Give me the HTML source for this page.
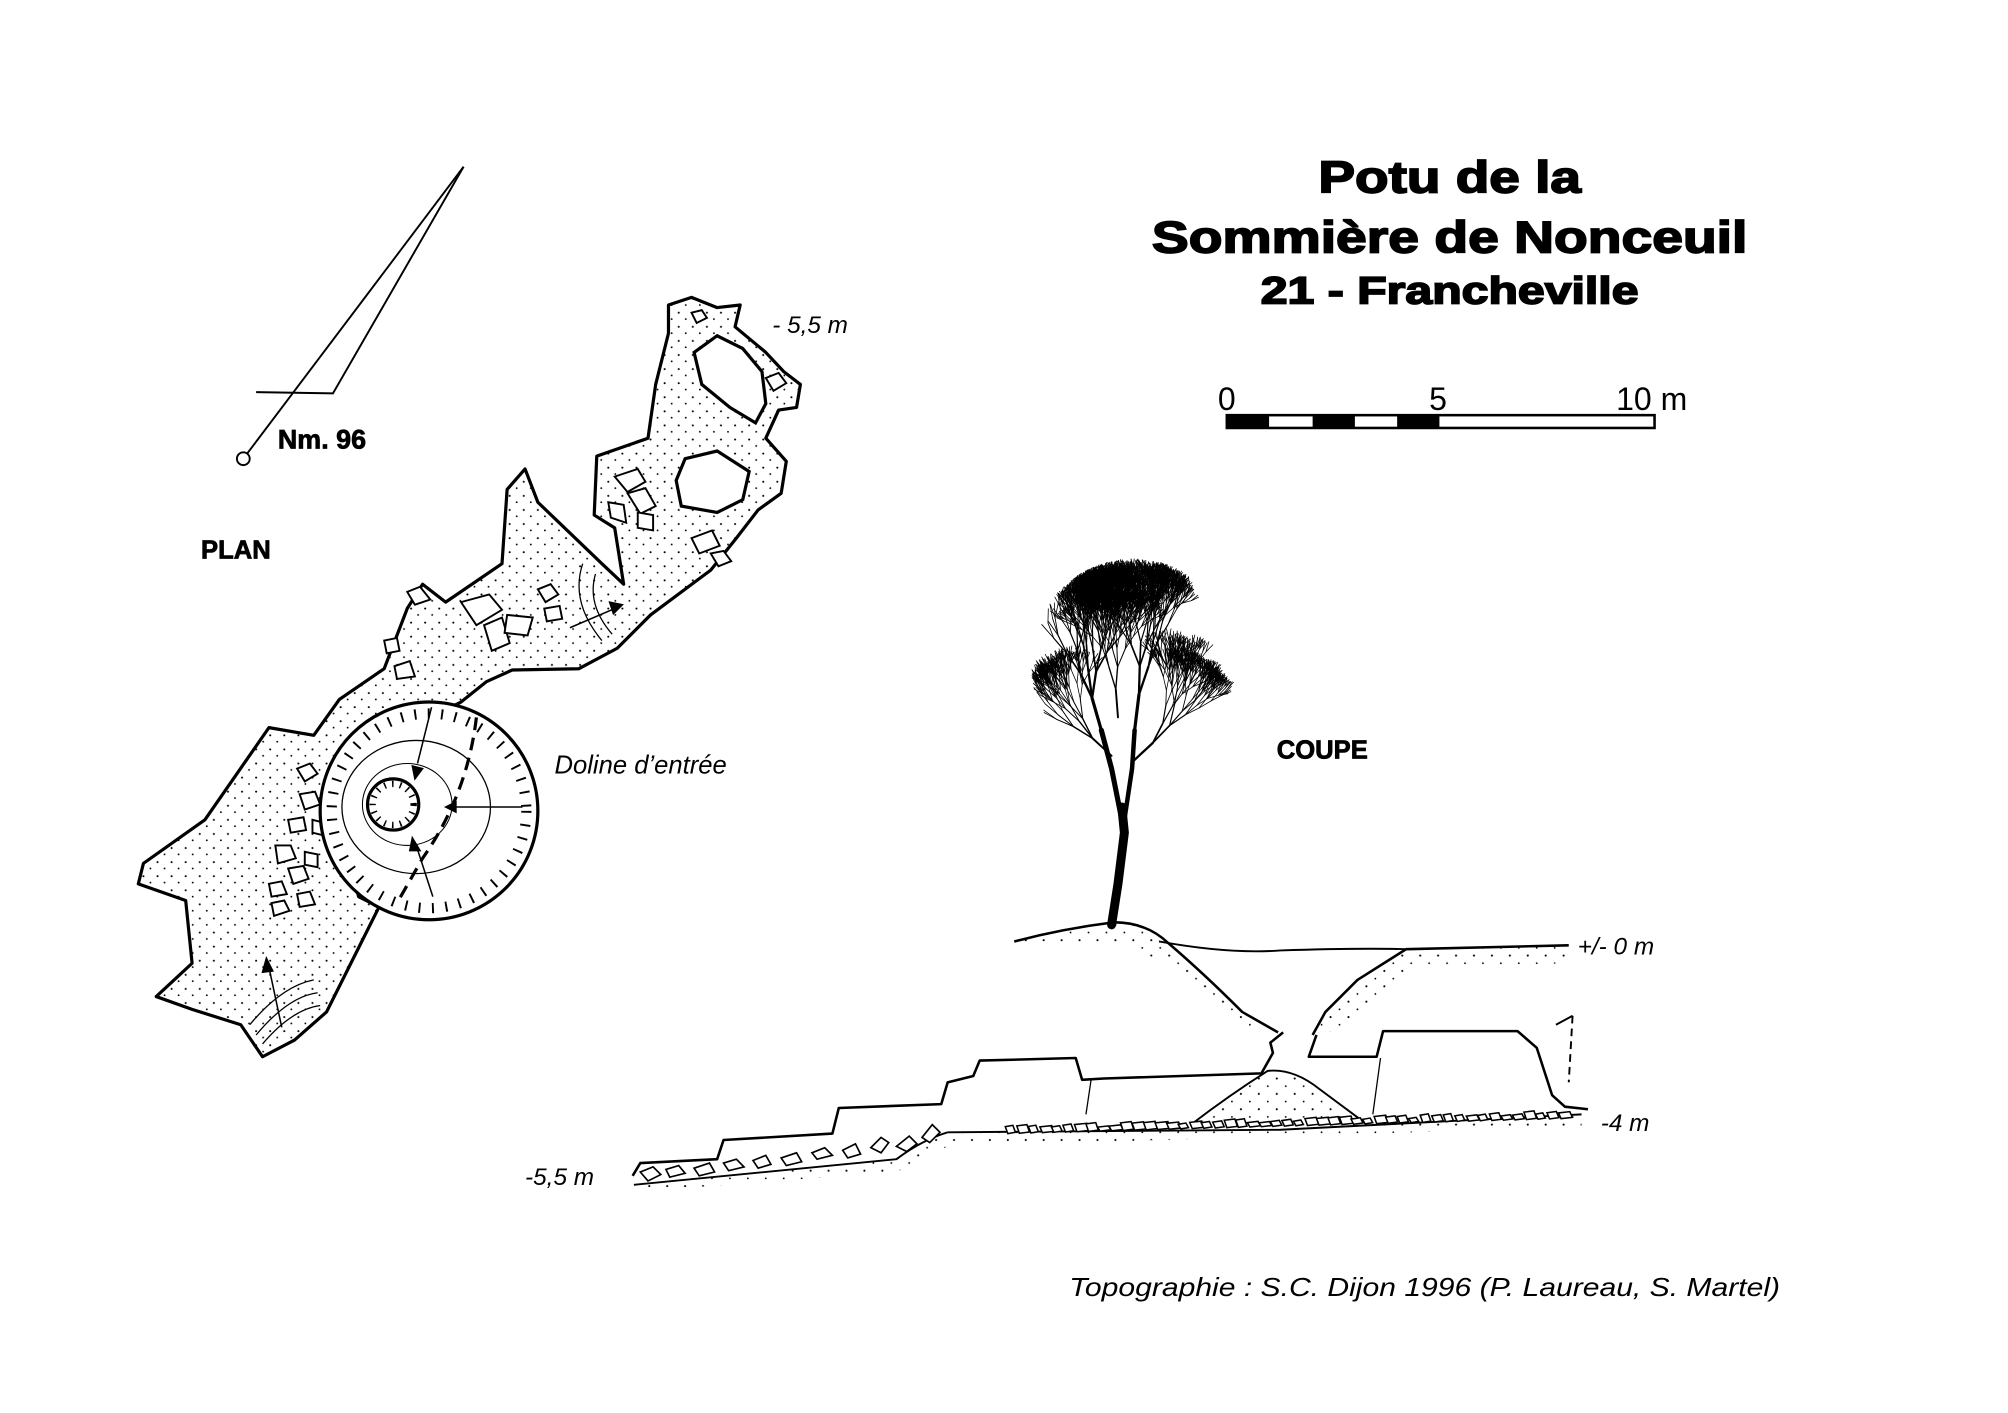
<!DOCTYPE html>
<html><head><meta charset="utf-8"><style>
html,body{margin:0;padding:0;background:#fff;}
svg{display:block;}
text{font-family:"Liberation Sans",sans-serif;fill:#000;}
</style></head><body>
<svg width="2008" height="1413" viewBox="0 0 1568 1103" xmlns="http://www.w3.org/2000/svg">
<defs>
<pattern id="dots" width="11" height="11" patternUnits="userSpaceOnUse">
<circle cx="2" cy="2" r="0.8" fill="#000"/><circle cx="7.5" cy="7" r="0.7" fill="#000"/>
</pattern>
<pattern id="dots2" width="14" height="12" patternUnits="userSpaceOnUse">
<circle cx="3" cy="2" r="0.8" fill="#000"/><circle cx="10" cy="8" r="0.7" fill="#000"/>
</pattern>
</defs>
<rect width="1568" height="1103" fill="#fff"/>

<g stroke="#000" stroke-width="1.3">
<text x="1132" y="150" font-size="35" font-weight="bold" text-anchor="middle" textLength="205" lengthAdjust="spacingAndGlyphs">Potu de la</text>
<text x="1132" y="197" font-size="35" font-weight="bold" text-anchor="middle" textLength="465" lengthAdjust="spacingAndGlyphs">Sommière de Nonceuil</text>
<text x="1132" y="237" font-size="30" font-weight="bold" text-anchor="middle" textLength="295" lengthAdjust="spacingAndGlyphs">21 - Francheville</text>
</g>

<rect x="958" y="324" width="334" height="10" fill="#fff" stroke="#000" stroke-width="2"/>
<rect x="958" y="324" width="33" height="10" fill="#000"/>
<rect x="1025" y="324" width="33" height="10" fill="#000"/>
<rect x="1091" y="324" width="33" height="10" fill="#000"/>
<text x="951" y="320" font-size="25">0</text>
<text x="1116" y="320" font-size="25">5</text>
<text x="1262" y="320" font-size="25">10 m</text>

<g stroke="#000" stroke-width="1.5" fill="none">
<line x1="362" y1="130" x2="193" y2="354"/>
<polyline points="362,130 260,307 200,306"/>
<circle cx="190" cy="358" r="5" fill="#fff"/>
</g>
<text x="217" y="350" font-size="21" font-weight="bold" stroke="#000" stroke-width="0.6">Nm. 96</text>
<text x="157" y="436" font-size="20" font-weight="bold" stroke="#000" stroke-width="0.6">PLAN</text>

<path d="M205,825 L188,800 L150,788 L122,778 L150,752 L145,703 L108,690 L112,674 L160,640 L210,568 L245,574 L265,546 L300,522 L318,475 L330,456 L348,470 L392,440 L396,382 L410,366 L420,392 L470,440 L487,456 L480,412 L464,402 L466,356 L506,342 L512,300 L522,260 L522,238 L540,232 L560,240 L578,238 L574,255 L598,275 L612,290 L625,300 L622,318 L608,320 L598,342 L614,360 L610,385 L592,398 L575,420 L555,445 L508,480 L482,506 L452,522 L400,523 L380,532 L360,548 L300,578 L270,660 L280,700 L296,708 L280,740 L255,790 L230,812 Z" fill="url(#dots)" stroke="#000" stroke-width="2.5" stroke-linejoin="round"/>
<path d="M542,275 L560,262 L580,272 L595,290 L598,315 L590,330 L570,318 L548,300 Z" fill="#fff" stroke="#000" stroke-width="2.5"/>
<path d="M535,358 L560,352 L585,368 L580,390 L560,400 L532,395 L528,375 Z" fill="#fff" stroke="#000" stroke-width="2.5"/>
<g fill="#fff" stroke="#000" stroke-width="1.5">
<path d="M480,372 l18,-6 l6,10 l-14,8z"/><path d="M490,385 l14,-4 l8,14 l-12,6z"/><path d="M475,392 l12,2 l2,14 l-12,-4z"/>
<path d="M498,400 l12,2 l0,12 l-12,-2z"/><path d="M540,420 l16,-6 l6,12 l-16,6z"/><path d="M555,432 l10,-2 l6,8 l-10,4z"/>
<path d="M360,470 l22,-6 l10,12 l-20,12z"/><path d="M378,488 l14,-6 l6,20 l-14,6z"/><path d="M396,480 l20,2 l-4,14 l-18,-2z"/>
<path d="M420,460 l10,-4 l6,8 l-10,6z"/><path d="M425,475 l12,-2 l2,10 l-12,2z"/><path d="M318,462 l10,-4 l8,10 l-12,4z"/>
<path d="M308,520 l12,-4 l4,12 l-14,2z"/><path d="M300,500 l10,-2 l2,10 l-10,2z"/>
<path d="M232,600 l10,-4 l6,8 l-10,6z"/><path d="M234,620 l12,-2 l4,10 l-12,4z"/><path d="M225,640 l12,-2 l2,10 l-12,2z"/>
<path d="M215,660 l12,0 l4,10 l-14,4z"/><path d="M225,678 l12,-2 l4,10 l-12,4z"/><path d="M210,690 l10,-2 l4,10 l-12,2z"/>
<path d="M238,665 l10,2 l0,10 l-10,-2z"/><path d="M244,640 l8,2 l0,10 l-8,-2z"/><path d="M212,705 l10,-2 l4,8 l-12,4z"/>
<path d="M232,698 l10,-2 l4,10 l-12,2z"/><path d="M598,295 l10,-4 l6,8 l-10,6z"/><path d="M540,244 l8,-2 l4,6 l-8,4z"/>
</g>
<circle cx="335" cy="633" r="85" fill="#fff" stroke="#000" stroke-width="2.5"/>
<circle cx="335" cy="633" r="76" fill="none" stroke="#000" stroke-width="8" stroke-dasharray="1.5 9"/>
<ellipse cx="325" cy="630" rx="58" ry="52" fill="none" stroke="#000" stroke-width="1"/>
<ellipse cx="318" cy="628" rx="35" ry="32" fill="none" stroke="#000" stroke-width="0.8"/>
<circle cx="307" cy="628" r="20" fill="#fff" stroke="#000" stroke-width="2.5"/>
<circle cx="307" cy="628" r="16" fill="none" stroke="#000" stroke-width="5" stroke-dasharray="1.2 5"/>
<path d="M372,560 Q365,620 330,670 L310,705" fill="none" stroke="#000" stroke-width="2.5" stroke-dasharray="10 6"/>
<g stroke="#000" stroke-width="1.2" fill="#000">
<line x1="337" y1="552" x2="326" y2="596"/><path d="M322,598 l8,2 l-6,8z"/>
<line x1="408" y1="630" x2="352" y2="630"/><path d="M348,630 l8,-4 l0,8z"/>
<line x1="338" y1="700" x2="325" y2="660"/><path d="M322,654 l6,10 l-8,0z"/>
<line x1="445" y1="490" x2="480" y2="475"/><path d="M486,472 l-10,-2 l3,9z"/>
<line x1="220" y1="802" x2="210" y2="755"/><path d="M208,748 l5,10 l-8,1z"/>
</g>
<g fill="none" stroke="#000" stroke-width="1">
<path d="M195,800 Q220,770 245,765"/><path d="M200,808 Q225,778 248,775"/><path d="M205,815 Q228,788 250,785"/>
<path d="M455,440 Q445,470 470,500"/><path d="M465,448 Q458,472 478,495"/>
</g>
<text x="603" y="260" font-size="19" font-style="italic">- 5,5 m</text>
<text x="433" y="604" font-size="20" font-style="italic">Doline d’entrée</text>

<g id="tree" stroke="#000" fill="none" stroke-linecap="round">
<path d="M868,722 L873,690 L878,650 L876,630" stroke-width="7"/>
<path d="M876,640 L868,600 L860,570" stroke-width="4"/>
<path d="M878,640 L884,600 L886,570" stroke-width="3.5"/>
</g>
<text x="997" y="592" font-size="20" font-weight="bold" stroke="#000" stroke-width="0.6">COUPE</text>

<path d="M792,735 Q830,725 870,720 Q895,720 912,736 Q940,760 970,790 L998,806 L985,806 Q950,790 930,770 Q905,745 870,735 Z" fill="url(#dots2)"/>
<path d="M1098,741 L1225,738 L1225,752 L1110,755 L1070,785 L1040,805 L1028,808 L1035,790 L1060,765 Z" fill="url(#dots2)"/>
<path d="M930,878 Q960,855 990,836 Q1010,834 1030,850 L1065,876 Z" fill="url(#dots2)"/>
<path d="M495,925 L700,905 Q720,890 740,884 L1000,882 L1235,870 L1235,880 L740,895 L700,915 L500,930 Z" fill="url(#dots2)"/>
<g fill="none" stroke="#000" stroke-width="2" stroke-linejoin="round">
<path d="M792,735 Q830,725 870,720 Q895,720 912,736 Q940,760 970,790 L998,806"/>
<path d="M1002,806 L992,814 L994,822 L985,838 L862,842 L845,843 L840,826 L765,828 L760,840 L740,845 L735,862 L655,865 L650,885 L565,890 L560,905 L500,908 L494,918"/>
<path d="M1025,808 L1035,790 L1060,765 L1098,741 L1225,738"/>
<path d="M1028,808 L1022,825 L1075,825 L1080,805 L1185,805 L1200,818 L1212,855 L1222,864 L1240,866"/>
<path d="M905,735 Q960,745 1000,742 Q1060,740 1098,741" stroke-width="1.5"/>
<path d="M1228,793 L1225,845" stroke-dasharray="6 4" stroke-width="1.5"/>
<path d="M1215,800 L1228,793" stroke-width="1.5"/>
<path d="M740,884 Q720,890 700,905 L495,925" stroke-width="1.5"/>
<path d="M740,884 L1000,882 L1235,870" stroke-width="1.5"/>
<path d="M930,878 Q960,855 990,836 Q1010,834 1030,850 L1065,876" stroke-width="1.5"/>
<path d="M1078,826 L1072,870" stroke-width="1"/><path d="M852,843 L848,870" stroke-width="1"/>
</g>
<g fill="#fff" stroke="#000" stroke-width="1.3">
<path d="M500,915 l10,-4 l6,6 l-10,5z"/><path d="M520,913 l10,-3 l5,6 l-12,3z"/><path d="M542,912 l12,-4 l4,7 l-12,3z"/>
<path d="M565,908 l10,-3 l6,6 l-12,3z"/><path d="M588,906 l10,-4 l4,7 l-10,3z"/><path d="M610,904 l12,-4 l4,7 l-12,3z"/>
<path d="M634,900 l10,-4 l6,6 l-12,3z"/><path d="M658,898 l10,-5 l4,8 l-10,3z"/><path d="M680,896 l8,-8 l6,4 l-6,8z"/>
<path d="M700,895 l10,-8 l6,6 l-8,6z"/><path d="M720,888 l8,-10 l6,6 l-8,8z"/>
</g>
<g id="rub" fill="#fff" stroke="#000" stroke-width="1.2"></g>
<text x="1232" y="745" font-size="19" font-style="italic">+/- 0 m</text>
<text x="1250" y="883" font-size="19" font-style="italic">-4 m</text>
<text x="410" y="925" font-size="19" font-style="italic">-5,5 m</text>
<text x="835" y="1012" font-size="20" font-style="italic" textLength="555" lengthAdjust="spacingAndGlyphs">Topographie : S.C. Dijon 1996 (P. Laureau, S. Martel)</text>
</svg>
<script>
(function(){
var ns="http://www.w3.org/2000/svg";
var seed=11;function r(){seed=(seed*9301+49297)%233280;return seed/233280;}
var g=document.getElementById('tree');var paths=[];
function br(x,y,a,len,depth,w){
 if(depth==0)return;
 var x2=x+Math.cos(a)*len,y2=y+Math.sin(a)*len;
 var cx=885,cy=518,rx=80,ry=82;
 if(((x2-cx)*(x2-cx))/(rx*rx)+((y2-cy)*(y2-cy))/(ry*ry)>1)return;
 paths.push([x,y,x2,y2,w]);
 var n=(r()<0.55)?2:3;
 for(var i=0;i<n;i++){
  var na=a+(i-(n-1)/2)*0.36+(r()-0.5)*0.3;
  na=na*0.85+(-1.5708)*0.15;
  br(x2,y2,na,len*(0.78+r()*0.12),depth-1,Math.max(0.6,w*0.72));
 }
}
br(860,570,-1.85,26,9,2.5);
br(886,570,-1.45,28,9,2.5);
br(868,590,-2.4,20,7,1.5);
br(884,595,-0.75,22,8,1.8);
br(873,560,-1.65,22,8,1.5);
paths.forEach(function(p){
 var l=document.createElementNS(ns,'line');
 l.setAttribute('x1',p[0].toFixed(1));l.setAttribute('y1',p[1].toFixed(1));
 l.setAttribute('x2',p[2].toFixed(1));l.setAttribute('y2',p[3].toFixed(1));
 l.setAttribute('stroke-width',p[4].toFixed(2));g.appendChild(l);
});
var rb=document.getElementById('rub');
for(var x=785;x<1225;x+=9){
 var y=883-(x-785)*0.027;
 var q=document.createElementNS(ns,'path');
 var w=5+r()*5,h=3+r()*3;
 q.setAttribute('d',"M"+x+","+(y-h+2)+"l"+w+","+(-1)+"l"+2+","+h+"l"+(-w)+","+1+"z");
 rb.appendChild(q);
}
})();
</script>
</body></html>
